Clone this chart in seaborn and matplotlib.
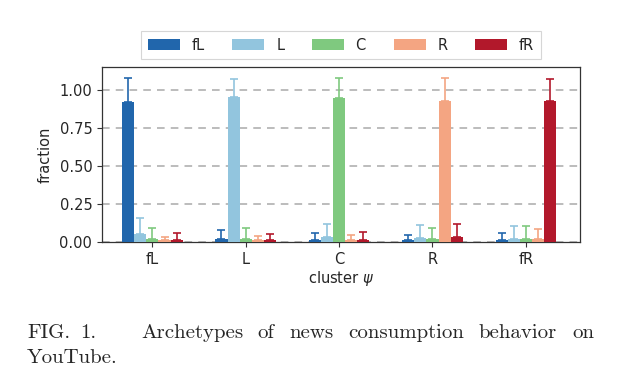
import pandas as pd
import matplotlib
matplotlib.use("Agg")
import matplotlib.pyplot as plt
import seaborn as sns

# clusters on the x axis, categories as hue
clusters = ["fL", "L", "C", "R", "fR"]
categories = ["fL", "L", "C", "R", "fR"]
colors = ["#2166ac", "#92c5de", "#7fc97f", "#f4a582", "#b2182b"]

# fraction of each category (rows = cluster, cols = category)
frac = [
    [0.920, 0.050, 0.020, 0.010, 0.015],
    [0.020, 0.950, 0.020, 0.010, 0.010],
    [0.010, 0.030, 0.945, 0.010, 0.015],
    [0.010, 0.025, 0.020, 0.925, 0.035],
    [0.010, 0.020, 0.020, 0.020, 0.925],
]
# upper error (std) for each bar
err = [
    [0.155, 0.110, 0.075, 0.025, 0.045],
    [0.060, 0.120, 0.075, 0.030, 0.040],
    [0.050, 0.090, 0.130, 0.035, 0.050],
    [0.035, 0.085, 0.070, 0.150, 0.080],
    [0.050, 0.085, 0.085, 0.065, 0.145],
]

rows = []
for i, cl in enumerate(clusters):
    for j, cat in enumerate(categories):
        rows.append({"cluster": cl, "cat": cat, "fraction": frac[i][j], "err": err[i][j]})
df = pd.DataFrame(rows)

sns.set_style("white")
plt.rcParams["font.family"] = ["DejaVu Sans"]

fig = plt.figure(figsize=(6.23, 3.92), dpi=100)
ax = fig.add_axes([0.1637, 0.3827, 0.7673, 0.4465])

sns.barplot(data=df, x="cluster", y="fraction", hue="cat", hue_order=categories,
            order=clusters, palette=colors, saturation=1, width=0.65,
            errorbar=None, ax=ax, zorder=3, linewidth=0)

# one-sided error bars on top of each bar
bar_conts = list(ax.containers)
for j, cont in enumerate(bar_conts):
    sub = df[df["cat"] == categories[j]].set_index("cluster").loc[clusters]
    xs = [p.get_x() + p.get_width() / 2 for p in cont.patches]
    ax.errorbar(xs, sub["fraction"].values, yerr=[[0] * len(xs), sub["err"].values],
                fmt="none", ecolor=colors[j], alpha=0.85, elinewidth=1.4,
                capsize=3, capthick=1.4, zorder=2)

ax.set_ylim(0, 1.15)
ax.set_xlim(-0.54, 4.58)
ax.set_yticks([0, 0.25, 0.5, 0.75, 1.0])
ax.set_yticklabels(["0.00", "0.25", "0.50", "0.75", "1.00"])
ax.yaxis.grid(True, linestyle=(0, (5, 4)), color="#aaaaaa", linewidth=1.1, zorder=0)
ax.set_axisbelow(True)
ax.tick_params(axis="both", labelsize=10.5, length=3.5, width=0.8, direction="out",
               bottom=True, left=True, color="#333333")
for s in ax.spines.values():
    s.set_color("#333333")
    s.set_linewidth(0.9)
ax.set_xlabel(r"cluster $\psi$", fontsize=10.5, labelpad=2)
ax.set_ylabel("fraction", fontsize=10.5, labelpad=5)

leg = ax.legend(ncol=5, loc="center", bbox_to_anchor=(0.5, 1.125), fontsize=10.5,
                frameon=True, handlelength=2.2, handleheight=0.7, columnspacing=1.9,
                handletextpad=0.8, borderpad=0.45, fancybox=False, edgecolor="#cccccc")
leg.get_frame().set_linewidth(0.8)

# caption, justified first line
fig.canvas.draw()
renderer = fig.canvas.get_renderer()
words = ["FIG.", "1.", "Archetypes", "of", "news", "consumption", "behavior", "on"]
cap_size = 15
x_left, x_right = 27 / 623, 594 / 623
texts = []
for w in words:
    t = fig.text(0, 1 - 333 / 392, w, family="cmr10", fontsize=cap_size, va="center", ha="left")
    texts.append(t)
fig.canvas.draw()
widths = [t.get_window_extent(renderer).width / fig.bbox.width for t in texts]
# wider gap after "1." as in the original typesetting
weights = [0.7, 3.0, 1, 1, 1, 1, 1]
gap = (x_right - x_left - sum(widths)) / sum(weights)
x = x_left
for k, t in enumerate(texts):
    t.set_x(x)
    x += widths[k] + (gap * weights[k] if k < len(weights) else 0)
fig.text(x_left, 1 - 358 / 392, "YouTube.", family="cmr10", fontsize=cap_size, va="center", ha="left")

fig.savefig("out.png", dpi=100)
